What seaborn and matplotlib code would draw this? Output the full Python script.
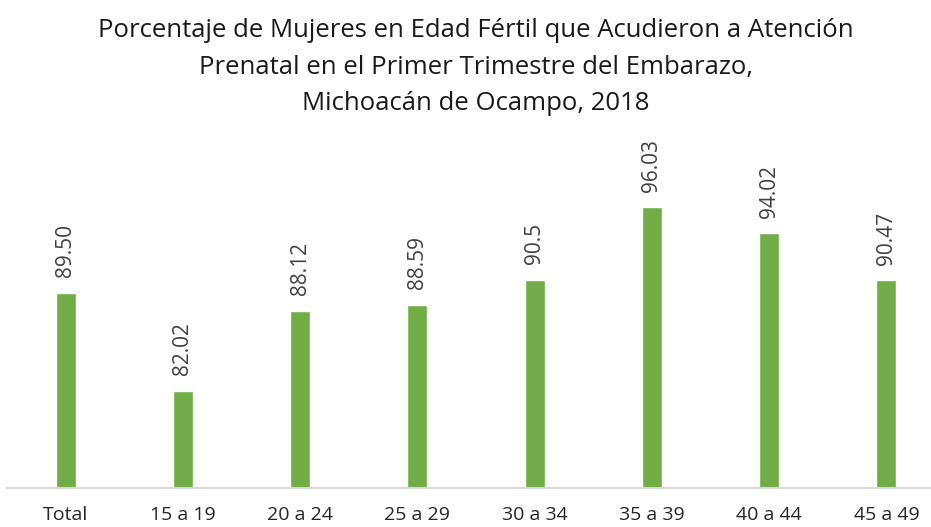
import pandas as pd
import matplotlib.pyplot as plt
import seaborn as sns

# data
grupos = ['Total', '15 a 19', '20 a 24', '25 a 29', '30 a 34', '35 a 39', '40 a 44', '45 a 49']
porcentajes = [89.50, 82.02, 88.12, 88.59, 90.5, 96.03, 94.02, 90.47]
etiquetas = ['89.50', '82.02', '88.12', '88.59', '90.5', '96.03', '94.02', '90.47']

titulo = ('Porcentaje de Mujeres en Edad Fértil que Acudieron a Atención\n'
          'Prenatal en el Primer Trimestre del Embarazo,\n'
          'Michoacán de Ocampo, 2018')

df = pd.DataFrame({'grupo': grupos, 'pct': porcentajes})

sns.set_style('white')
plt.rcParams['font.family'] = ['Open Sans', 'DejaVu Sans']

W, H = 931, 527
fig = plt.figure(figsize=(W / 100, H / 100), dpi=100)
ax = fig.add_axes([7 / W, 1 - 488 / H, (W - 7) / W, (488 - 155) / H])

sns.barplot(data=df, x='grupo', y='pct', color='#70AD47', width=0.17,
            saturation=1, ax=ax)

ax.set_ylim(74.6, 100)
ax.set_xlim(-0.5, 7.38)

for i, (v, lab) in enumerate(zip(porcentajes, etiquetas)):
    ax.annotate(lab, (i, v), xytext=(0, 11), textcoords='offset points',
                rotation=90, ha='center', va='bottom', fontsize=15,
                color='#404040')

ax.set_xlabel('')
ax.set_ylabel('')
ax.set_yticks([])
ax.tick_params(axis='x', length=0, pad=13, labelsize=14, labelcolor='#262626')
for s in ['top', 'right', 'left']:
    ax.spines[s].set_visible(False)
ax.spines['bottom'].set_color('#D9D9D9')
ax.spines['bottom'].set_linewidth(1.5)

fig.text(476 / W, 1 - 67 / H, titulo, ha='center', va='center',
         fontsize=18.5, color='#1a1a1a', linespacing=1.58)

fig.savefig('out.png', dpi=100)
